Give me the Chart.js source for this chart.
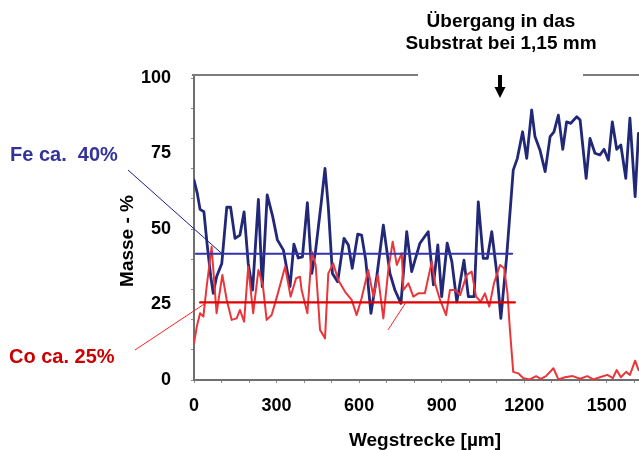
<!DOCTYPE html>
<html lang="de">
<head>
<meta charset="utf-8">
<title>Masse - % über Wegstrecke</title>
<script src="https://cdn.jsdelivr.net/npm/chart.js@4.4.1/dist/chart.umd.min.js"></script>
<style>
    body { margin: 0; background: #fff; }
    canvas { display: block; }
</style>
</head>
<body>
<canvas id="profileChart" width="639" height="450"></canvas>
<script>
"use strict";

// Fe profile: distance [µm] and mass-%
const feDist = [0, 12, 22, 36, 48, 61, 70, 82, 101, 119, 133, 149, 167, 182, 197, 213, 234, 248, 266, 286,
    303, 325, 349, 363, 379, 394, 412, 428, 442, 462, 476, 488, 503, 522, 545, 561, 575, 595, 609, 624,
    643, 664, 688, 712, 730, 752, 773, 791, 821, 851, 870, 886, 900, 920, 937, 955, 981, 997, 1018, 1033,
    1051, 1066, 1082, 1102, 1115, 1136, 1160, 1175, 1194, 1209, 1227, 1239, 1257, 1276, 1294, 1308, 1324, 1340, 1354, 1369,
    1391, 1403, 1425, 1439, 1457, 1475, 1490, 1506, 1520, 1536, 1551, 1569, 1584, 1603, 1615];
const feMass = [66.2, 61.8, 56.5, 55.7, 44.7, 34.2, 28.7, 34.2, 38.6, 57.2, 57.2, 46.9, 48.0, 55.7, 38.6, 29.8, 59.8, 30.9, 61.3, 54.1,
    46.4, 43.0, 30.9, 45.0, 40.4, 40.8, 58.7, 35.3, 43.0, 58.5, 70.1, 57.4, 35.3, 32.5, 46.9, 44.7, 37.0, 48.3, 48.0, 39.7,
    22.1, 34.2, 51.3, 35.3, 29.8, 25.4, 49.1, 35.9, 45.3, 49.1, 31.5, 44.7, 27.6, 45.3, 39.2, 25.9, 39.7, 27.6, 27.6, 59.0,
    40.3, 40.3, 49.1, 34.2, 20.4, 40.8, 69.5, 73.4, 82.2, 73.4, 89.4, 80.6, 76.2, 69.0, 80.6, 82.2, 87.7, 76.4, 85.5, 85.0,
    87.2, 86.1, 66.8, 80.0, 75.1, 74.5, 76.4, 72.8, 85.5, 76.4, 77.8, 66.8, 86.7, 60.7, 81.7];

// Co profile: distance [µm] and mass-%
const coDist = [0, 10, 22, 34, 46, 64, 82, 103, 119, 137, 155, 167, 182, 197, 215, 234, 250, 264, 282, 303,
    331, 351, 371, 385, 391, 412, 428, 442, 458, 476, 488, 506, 524, 549, 573, 591, 609, 633, 652, 668,
    688, 706, 722, 737, 755, 761, 779, 797, 815, 839, 864, 876, 894, 916, 930, 948, 967, 991, 1009, 1025,
    1042, 1057, 1073, 1090, 1112, 1127, 1139, 1148, 1160, 1178, 1197, 1221, 1243, 1260, 1279, 1306, 1324, 1348, 1376, 1403,
    1429, 1451, 1475, 1502, 1522, 1536, 1551, 1570, 1584, 1603, 1615];
const coMass = [12.2, 17.6, 22.1, 21.0, 30.9, 44.1, 22.1, 34.8, 26.5, 19.9, 20.4, 23.2, 19.3, 37.5, 22.1, 36.4, 31.5, 19.9, 21.5, 28.1,
    37.5, 27.6, 33.7, 34.2, 29.8, 22.1, 42.5, 38.1, 16.6, 13.8, 35.3, 38.6, 33.1, 29.2, 26.5, 21.5, 27.1, 36.4, 27.6, 34.8,
    20.4, 36.4, 45.8, 38.1, 42.0, 29.8, 32.0, 27.6, 28.7, 28.7, 39.2, 32.0, 26.5, 21.5, 29.8, 29.8, 28.1, 34.8, 35.9, 27.6,
    25.9, 28.7, 24.3, 32.0, 38.1, 37.0, 28.8, 16.6, 2.7, 2.2, 0.6, 0.2, 1.3, 0.4, 1.3, 3.9, 0.2, 0.9, 1.3, 0.4,
    1.3, 0.2, 0.9, 1.7, 0.6, 3.3, 0.9, 2.7, 1.7, 6.4, 3.3];

// mean values in the coating and where their lines run
const feMean = 41.8;
const coMean = 25.7;
const feMeanRange = [7, 1156];
const coMeanRange = [22, 1166];

const xTicks = [0, 300, 600, 900, 1200, 1500];
const yTicks = [0, 25, 50, 75, 100];
const xMax = 1617;
const yMax = 101;
const substrateAt = 1112;   // arrow position on the distance axis

const fontFamily = '"Liberation Sans", Arial, sans-serif';

function toPoints(xs, ys) {
    return xs.map((x, i) => ({ x: x, y: ys[i] }));
}

function meanLine(range, value) {
    return range.map(x => ({ x: x, y: value }));
}

// step list for the small tick marks
function steps(max, step) {
    let list = [];
    for (let v = 0; v <= max; v += step) list.push({ value: v });
    return list;
}

// texts, leader lines, broken top frame and the arrow
const annotations = {
    id: "annotations",
    afterDraw(chart) {
        const { ctx, chartArea: area } = chart;
        const x = chart.scales.x;
        const y = chart.scales.y;
        ctx.save();

        // top frame line with a gap under the heading
        ctx.strokeStyle = "#7d7d7d";
        ctx.lineWidth = 2;
        ctx.beginPath();
        ctx.moveTo(area.left - 2, area.top);
        ctx.lineTo(418, area.top);
        ctx.moveTo(583, area.top);
        ctx.lineTo(area.right, area.top);
        ctx.stroke();

        // arrow down to the substrate transition
        let ax = x.getPixelForValue(substrateAt);
        ctx.fillStyle = "#000";
        ctx.fillRect(ax - 2, area.top, 4, 13);
        ctx.beginPath();
        ctx.moveTo(ax - 5.5, area.top + 12);
        ctx.lineTo(ax + 5.5, area.top + 12);
        ctx.lineTo(ax, area.top + 23);
        ctx.closePath();
        ctx.fill();

        // leader lines from the labels to the mean lines
        ctx.lineWidth = 1;
        ctx.strokeStyle = "#1c1c8e";
        ctx.beginPath();
        ctx.moveTo(128, 170);
        ctx.lineTo(x.getPixelForValue(102), y.getPixelForValue(feMean));
        ctx.stroke();

        ctx.strokeStyle = "#ff1f1f";
        ctx.beginPath();
        ctx.moveTo(135, 350);
        ctx.lineTo(x.getPixelForValue(46), y.getPixelForValue(coMean));
        ctx.moveTo(x.getPixelForValue(705), y.getPixelForValue(16.6));
        ctx.lineTo(x.getPixelForValue(770), y.getPixelForValue(coMean));
        ctx.stroke();

        // heading and axis titles
        ctx.fillStyle = "#000";
        ctx.font = "bold 19px " + fontFamily;
        ctx.textAlign = "center";
        ctx.textBaseline = "alphabetic";
        ctx.fillText("Übergang in das", 501, 27);
        ctx.fillText("Substrat bei 1,15 mm", 501, 49);
        ctx.fillText("Wegstrecke [µm]", 425, 446);

        ctx.save();
        ctx.translate(127.5, 241);
        ctx.rotate(-Math.PI / 2);
        ctx.textBaseline = "middle";
        ctx.fillText("Masse - %", 0, 0);
        ctx.restore();

        // element labels
        ctx.font = "bold 20px " + fontFamily;
        ctx.textAlign = "left";
        ctx.fillStyle = "#333399";
        ctx.fillText("Fe ca.  40%", 10, 161);
        ctx.fillStyle = "#cc0000";
        ctx.fillText("Co ca. 25%", 9, 363);

        ctx.restore();
    }
};

const ctx = document.getElementById("profileChart");
new Chart(ctx, {
    type: "line",
    data: {
        datasets: [
            {
                label: "Fe Mittelwert",
                data: meanLine(feMeanRange, feMean),
                borderColor: "#3333aa",
                borderWidth: 2.2
            },
            {
                label: "Co Mittelwert",
                data: meanLine(coMeanRange, coMean),
                borderColor: "#e00000",
                borderWidth: 2.2
            },
            {
                label: "Co",
                data: toPoints(coDist, coMass),
                borderColor: "#e8363a",
                borderWidth: 2
            },
            {
                label: "Fe",
                data: toPoints(feDist, feMass),
                borderColor: "#222878",
                borderWidth: 2.8
            }
        ]
    },
    options: {
        responsive: false,
        devicePixelRatio: 1,
        animation: false,
        elements: {
            point: { radius: 0 },
            line: { tension: 0, borderJoinStyle: "round", borderCapStyle: "round" }
        },
        layout: { padding: { top: 75, right: 0, bottom: 0, left: 0 } },
        plugins: {
            legend: { display: false },
            tooltip: { enabled: false }
        },
        scales: {
            x: {
                type: "linear",
                position: "bottom",
                weight: 1,
                min: 0,
                max: xMax,
                afterBuildTicks: axis => { axis.ticks = xTicks.map(v => ({ value: v })); },
                afterFit: axis => { axis.height = 67; },
                grid: { display: false, drawTicks: false },
                border: { display: false },
                ticks: {
                    autoSkip: false,
                    maxRotation: 0,
                    padding: 12,
                    color: "#000",
                    font: { family: fontFamily, size: 18, weight: "bold" },
                    callback: value => String(value)
                }
            },
            xMinor: {
                type: "linear",
                position: "bottom",
                weight: 0,
                min: 0,
                max: xMax,
                afterBuildTicks: axis => { axis.ticks = steps(1600, 100); },
                afterFit: axis => { axis.height = 3; },
                grid: { drawOnChartArea: false, tickLength: 3, color: "#8c8c8c" },
                border: { color: "#6f6f6f", width: 2 },
                ticks: { display: false }
            },
            y: {
                position: "left",
                weight: 1,
                min: 0,
                max: yMax,
                afterBuildTicks: axis => { axis.ticks = yTicks.map(v => ({ value: v })); },
                afterFit: axis => { axis.width = 191; },
                grid: { display: false, drawTicks: false },
                border: { display: false },
                ticks: {
                    padding: 20,
                    color: "#000",
                    font: { family: fontFamily, size: 18, weight: "bold" },
                    callback: value => String(value)
                }
            },
            yMinor: {
                position: "left",
                weight: 0,
                min: 0,
                max: yMax,
                afterBuildTicks: axis => { axis.ticks = steps(100, 10); },
                afterFit: axis => { axis.width = 3; },
                grid: { drawOnChartArea: false, tickLength: 3, color: "#8c8c8c" },
                border: { color: "#6f6f6f", width: 2 },
                ticks: { display: false }
            }
        }
    },
    plugins: [annotations]
});
</script>
</body>
</html>
